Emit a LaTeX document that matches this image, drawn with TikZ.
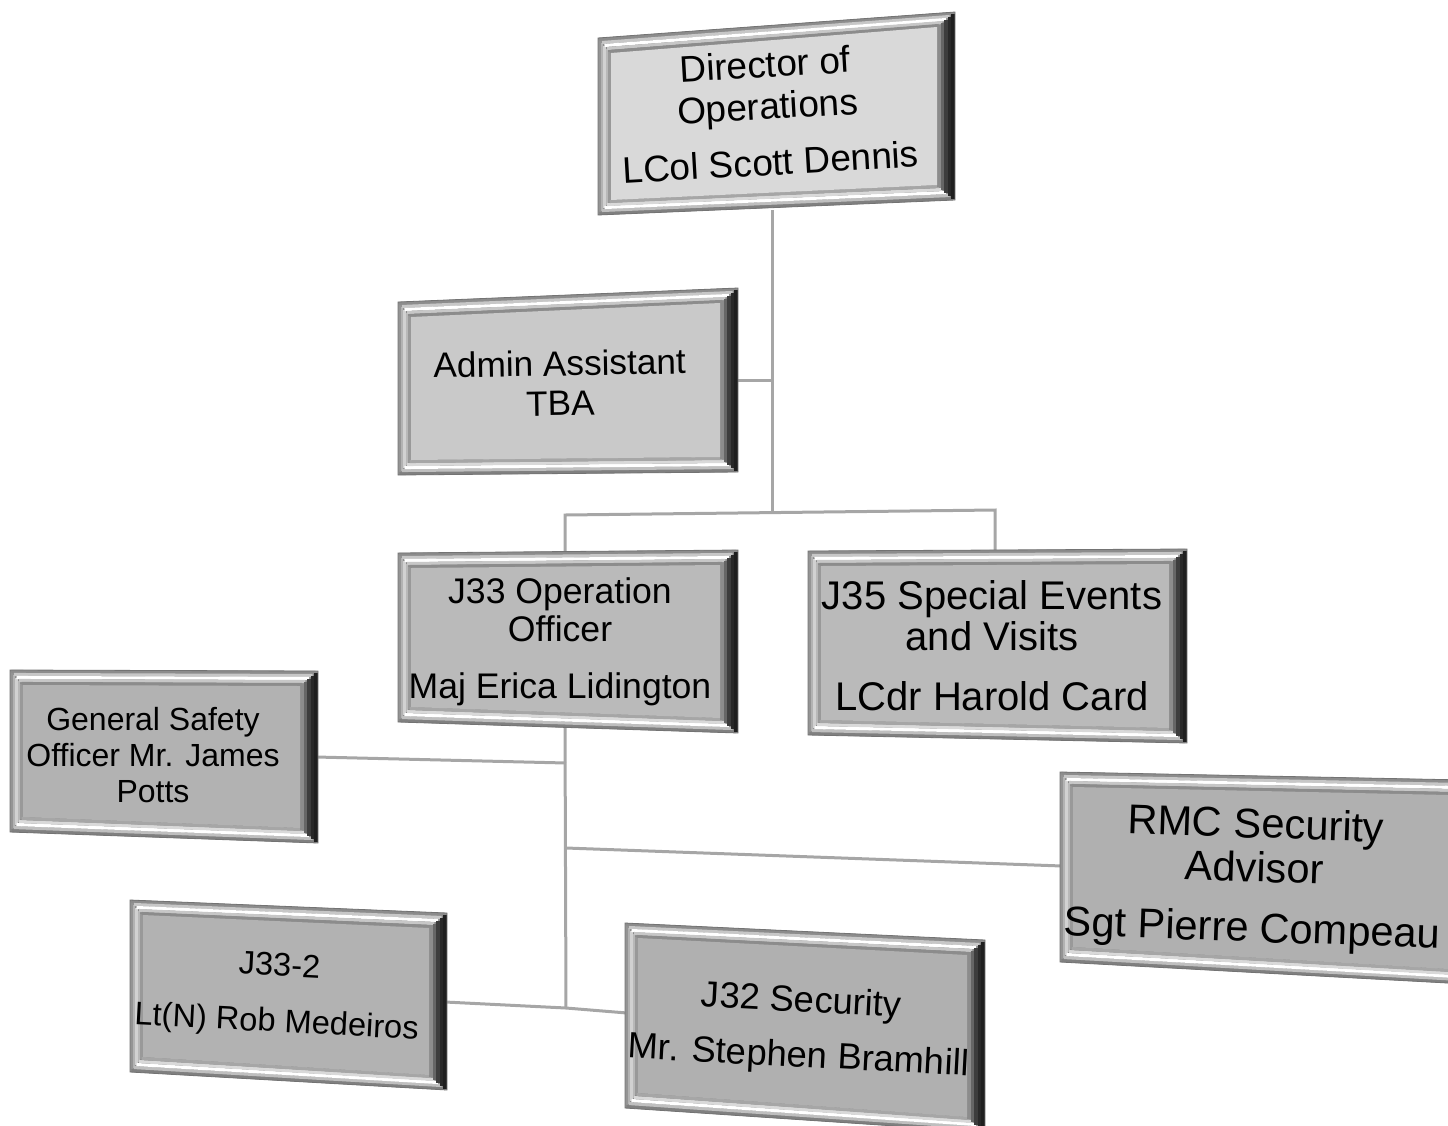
\documentclass[tikz,border=0pt]{standalone}
\usepackage{fontspec}
\setmainfont{Liberation Sans}
\usetikzlibrary{calc}
\tikzset{
  conn/.style={draw=black!35, line width=1.5pt},
  lbl/.style={align=center, inner sep=0pt, text=black},
}
\newcommand\orgbox[6]{%
  \coordinate (#1tl) at (#2);
  \coordinate (#1tr) at (#3);
  \coordinate (#1br) at (#4);
  \coordinate (#1bl) at (#5);
  \coordinate (#1itl) at ($(#1tl)+(13,15)$);
  \coordinate (#1itr) at ($(#1tr)+(-18,15)$);
  \coordinate (#1ibr) at ($(#1br)+(-18,-15)$);
  \coordinate (#1ibl) at ($(#1bl)+(13,-15)$);
  \fill[black!45] (#1tl)--(#1tr)--(#1br)--(#1bl)--cycle;
  % left bevel
  \foreach \bfr/\bcol in {0.1/black!42,0.3/black!30,0.5/black!18,0.7/black!28,0.9/black!40}
    {\draw[\bcol, line width=1.35pt] ($(#1tl)!\bfr!(#1itl)$) -- ($(#1bl)!\bfr!(#1ibl)$);}
  % top bevel
  \foreach \bfr/\bcol in {0.1/black!45,0.3/black!22,0.5/white,0.7/black!22,0.9/black!45}
    {\draw[\bcol, line width=1.55pt] ($(#1tl)!\bfr!(#1itl)$) -- ($(#1tr)!\bfr!(#1itr)$);}
  % bottom bevel
  \foreach \bfr/\bcol in {0.1/black!50,0.3/black!25,0.5/white,0.7/black!15,0.9/black!35}
    {\draw[\bcol, line width=1.55pt] ($(#1bl)!\bfr!(#1ibl)$) -- ($(#1br)!\bfr!(#1ibr)$);}
  % right bevel (dark)
  \foreach \bfr/\bcol in {0.1/black!88,0.3/black!84,0.5/black!76,0.7/black!60,0.9/black!45}
    {\draw[\bcol, line width=1.85pt] ($(#1tr)!\bfr!(#1itr)$) -- ($(#1br)!\bfr!(#1ibr)$);}
  \draw[black!55, line width=0.4pt] (#1tl)--(#1tr)--(#1br)--(#1bl)--cycle;
  \fill[#6] (#1itl)--(#1itr)--(#1ibr)--(#1ibl)--cycle;
}
\begin{document}
\begin{tikzpicture}[x=0.5pt, y=-0.5pt]
\useasboundingbox (0,0) rectangle (1448,1126);
\clip (0,0) rectangle (1448,1126);

% connector coordinates
\coordinate (dirbot) at (772,210);
\coordinate (hub1) at (772,512);
\coordinate (admR) at (736,380);
\coordinate (admJ) at (772,380);
\coordinate (j33top) at (565,553);
\coordinate (barL) at (565,515);
\coordinate (barR) at (995,510);
\coordinate (j35top) at (995,550);
\coordinate (j33bot) at (565,727);
\coordinate (hub2) at (566,1008);
\coordinate (gsoR) at (316,757);
\coordinate (gsoJ) at (566,763);
\coordinate (rmcJ) at (566,848);
\coordinate (rmcL) at (1062,866);
\coordinate (jtwoR) at (445,1002);
\coordinate (j32L) at (627,1013);

\draw[conn] (dirbot) -- (hub1);
\draw[conn] (admR) -- (admJ);
\draw[conn] (j33top) -- (barL) -- (barR) -- (j35top);
\draw[conn] (j33bot) -- (hub2);
\draw[conn] (gsoR) -- (gsoJ);
\draw[conn] (rmcJ) -- (rmcL);
\draw[conn] (jtwoR) -- (hub2) -- (j32L);

% boxes
\orgbox{dir}{598,38}{955,12}{955,200}{598,215}{black!15}
\orgbox{adm}{398,302}{738,288}{738,472}{398,475}{black!21}
\orgbox{jtt}{398,553}{738,550}{738,733}{398,722}{black!27}
\orgbox{jtf}{808,551}{1187,549}{1187,743}{808,735}{black!27}
\orgbox{gso}{10,670}{318,671}{318,843}{10,832}{black!30}
\orgbox{rmc}{1060,772}{1466,780}{1466,984}{1060,962}{black!31}
\orgbox{jtw}{130,900}{447,913}{447,1090}{130,1072}{black!30}
\orgbox{jtz}{625,923}{985,940}{985,1132}{625,1108}{black!31}

% labels
\node[lbl, rotate=3.3, font=\fontsize{18.5}{21}\selectfont] (dir) at (768,113)
  {Director of\\Operations\\[7pt]LCol Scott Dennis};
\node[lbl, rotate=1, font=\fontsize{17.6}{20}\selectfont] (adm) at (560,383)
  {Admin Assistant\\TBA};
\node[lbl, font=\fontsize{17.8}{19}\selectfont] (jtt) at (560,642)
  {J33 Operation\\Officer\\[9.5pt]Maj Erica Lidington};
\node[lbl, font=\fontsize{20}{20.5}\selectfont] (jtf) at (992,646)
  {J35 Special Events\\and Visits\\[9.5pt]LCdr Harold Card};
\node[lbl, font=\fontsize{16}{18}\selectfont] (gso) at (153,755)
  {General Safety\\Officer Mr. James\\Potts};
\node[lbl, rotate=-2, font=\fontsize{20.8}{22}\selectfont] (rmc) at (1254,879)
  {RMC Security\\Advisor\\[8pt]Sgt Pierre Compeau};
\node[lbl, rotate=-3, font=\fontsize{16.3}{18}\selectfont] (jtw) at (278,996)
  {J33-2\\[10pt]Lt(N) Rob Medeiros};
\node[lbl, rotate=-3, font=\fontsize{18.2}{18}\selectfont] (jtz) at (800,1030)
  {J32 Security\\[9.5pt]Mr. Stephen Bramhill};
\end{tikzpicture}
\end{document}
